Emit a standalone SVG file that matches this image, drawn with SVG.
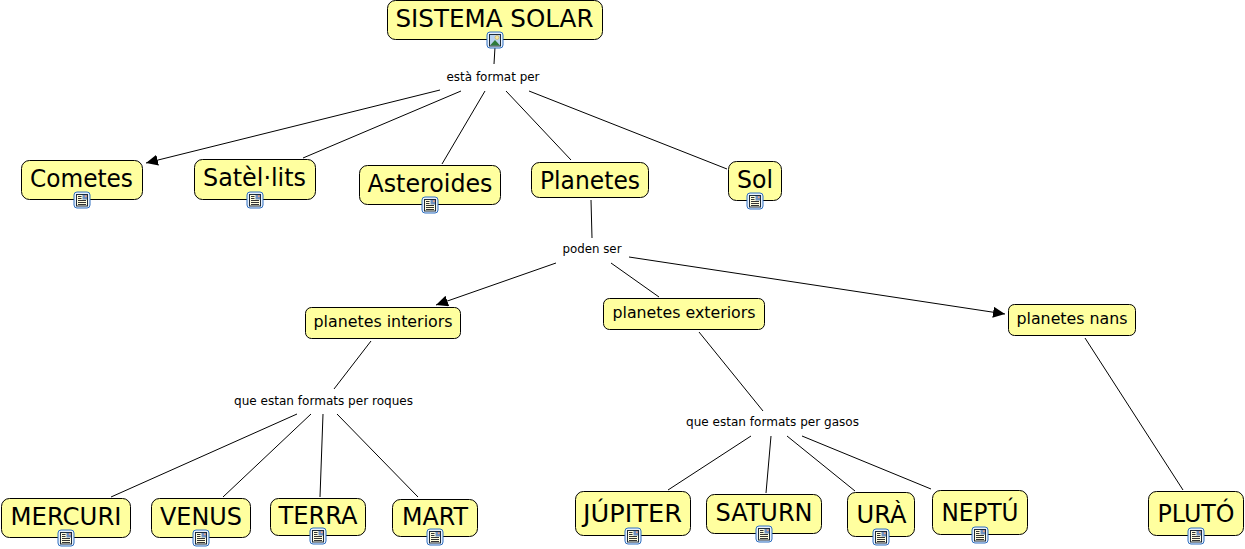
<svg xmlns="http://www.w3.org/2000/svg" width="1245" height="549" viewBox="0 0 1245 549">
<style>
text{font-family:"DejaVu Sans","Liberation Sans",sans-serif;fill:#000;text-anchor:middle}
.n rect.b{fill:#ffff9f;stroke:#000;stroke-width:1}
.t24{font-size:25px}.t15{font-size:16px}.l{font-size:11.800px}
#connectors line{stroke:#000;stroke-width:1;fill:none}
</style>
<defs>
<marker id="arrow" markerUnits="userSpaceOnUse" markerWidth="14" markerHeight="12" refX="12" refY="5.500" orient="auto"><path d="M0 0L12 5.500L0 11Z" fill="#000"/></marker>
<g id="doc"><rect x="0.500" y="0.500" width="16" height="16" rx="3" fill="#e8f1fb" stroke="#2f6fc0"/><rect x="3" y="3" width="11" height="11.500" fill="#fffde0" stroke="#1c2a3a"/><rect x="9" y="3.500" width="4.500" height="4.500" fill="#6d8fc0"/><circle cx="12.300" cy="4.800" r="1" fill="#f0a080"/><path d="M4.500 5h3.500M4.500 7h3.500M4.500 9h8M4.500 11h8M4.500 13h8" stroke="#333" stroke-width="1"/></g>
<g id="pic"><rect x="0.500" y="0.500" width="16" height="16" rx="3" fill="#e8f1fb" stroke="#2f6fc0"/><rect x="3" y="3" width="11" height="11.500" fill="#b9d3ef" stroke="#1c2a3a"/><circle cx="10.500" cy="6" r="2" fill="#f5e9a0" stroke="#c8a040" stroke-width="0.500"/><path d="M3.500 14L8.500 8.500L13.500 14Z" fill="#2f7a3a"/></g>
</defs>
<g id="connectors">
<line x1="495" y1="47" x2="494" y2="64"/>
<line x1="440" y1="90" x2="146" y2="163" marker-end="url(#arrow)"/>
<line x1="461" y1="91" x2="303" y2="158"/>
<line x1="485" y1="91" x2="442" y2="164"/>
<line x1="506" y1="91" x2="571" y2="160"/>
<line x1="529" y1="91" x2="727" y2="169"/>
<line x1="591" y1="200" x2="592" y2="238"/>
<line x1="556" y1="263" x2="436" y2="305" marker-end="url(#arrow)"/>
<line x1="611" y1="263" x2="659" y2="297"/>
<line x1="629" y1="257" x2="1005" y2="314" marker-end="url(#arrow)"/>
<line x1="371" y1="341" x2="334" y2="389"/>
<line x1="699" y1="332" x2="763" y2="411"/>
<line x1="1085" y1="338" x2="1183" y2="490"/>
<line x1="297" y1="414" x2="111" y2="497"/>
<line x1="311" y1="414" x2="223" y2="497"/>
<line x1="323" y1="414" x2="320" y2="497"/>
<line x1="337" y1="414" x2="418" y2="497"/>
<line x1="751" y1="436" x2="668" y2="490"/>
<line x1="771" y1="436" x2="766" y2="493"/>
<line x1="787" y1="436" x2="855" y2="491"/>
<line x1="802" y1="436" x2="931" y2="489"/>
</g>
<g id="sistema-solar" class="n"><rect class="b" x="387.500" y="0.500" width="215" height="39" rx="8"/><text class="t24" x="494.500" y="27" textLength="198" lengthAdjust="spacingAndGlyphs">SISTEMA SOLAR</text><use href="#pic" x="486.500" y="31.500"/></g>
<g id="esta-format-per"><text class="l" x="493" y="81" textLength="93" lengthAdjust="spacingAndGlyphs">està format per</text></g>
<g id="cometes" class="n"><rect class="b" x="21.500" y="160.500" width="121" height="39" rx="8"/><text class="t24" x="81.500" y="187" textLength="103" lengthAdjust="spacingAndGlyphs">Cometes</text><use href="#doc" x="73.500" y="191.500"/></g>
<g id="satellits" class="n"><rect class="b" x="194.500" y="159.500" width="121" height="40" rx="8"/><text class="t24" x="254.500" y="186" textLength="103" lengthAdjust="spacingAndGlyphs">Satèl·lits</text><use href="#doc" x="246.500" y="191.500"/></g>
<g id="asteroides" class="n"><rect class="b" x="359.500" y="165.500" width="141" height="39" rx="8"/><text class="t24" x="430" y="192" textLength="125" lengthAdjust="spacingAndGlyphs">Asteroides</text><use href="#doc" x="421.500" y="196.500"/></g>
<g id="planetes" class="n"><rect class="b" x="531.500" y="162.500" width="117" height="35" rx="8"/><text class="t24" x="590" y="189" textLength="100" lengthAdjust="spacingAndGlyphs">Planetes</text></g>
<g id="sol" class="n"><rect class="b" x="728.500" y="161.500" width="53" height="39" rx="8"/><text class="t24" x="755" y="188" textLength="36" lengthAdjust="spacingAndGlyphs">Sol</text><use href="#doc" x="746.500" y="192.500"/></g>
<g id="poden-ser"><text class="l" x="592" y="253" textLength="59" lengthAdjust="spacingAndGlyphs">poden ser</text></g>
<g id="planetes-interiors" class="n"><rect class="b" x="305.500" y="307.500" width="155" height="31" rx="6"/><text class="t15" x="383" y="327" textLength="139" lengthAdjust="spacingAndGlyphs">planetes interiors</text></g>
<g id="planetes-exteriors" class="n"><rect class="b" x="603.500" y="298.500" width="161" height="31" rx="6"/><text class="t15" x="684" y="318" textLength="143" lengthAdjust="spacingAndGlyphs">planetes exteriors</text></g>
<g id="planetes-nans" class="n"><rect class="b" x="1008.500" y="304.500" width="127" height="31" rx="6"/><text class="t15" x="1072" y="324" textLength="111" lengthAdjust="spacingAndGlyphs">planetes nans</text></g>
<g id="que-roques"><text class="l" x="323.500" y="405" textLength="179" lengthAdjust="spacingAndGlyphs">que estan formats per roques</text></g>
<g id="que-gasos"><text class="l" x="772.500" y="426" textLength="173" lengthAdjust="spacingAndGlyphs">que estan formats per gasos</text></g>
<g id="mercuri" class="n"><rect class="b" x="1.500" y="498.500" width="129" height="39" rx="8"/><text class="t24" x="66" y="525" textLength="111" lengthAdjust="spacingAndGlyphs">MERCURI</text><use href="#doc" x="57.500" y="529.500"/></g>
<g id="venus" class="n"><rect class="b" x="151.500" y="498.500" width="99" height="39" rx="8"/><text class="t24" x="201" y="525" textLength="82" lengthAdjust="spacingAndGlyphs">VENUS</text><use href="#doc" x="192.500" y="529.500"/></g>
<g id="terra" class="n"><rect class="b" x="270.500" y="498.500" width="95" height="37" rx="8"/><text class="t24" x="318" y="524" textLength="79" lengthAdjust="spacingAndGlyphs">TERRA</text><use href="#doc" x="309.500" y="527.500"/></g>
<g id="mart" class="n"><rect class="b" x="392.500" y="499.500" width="85" height="37" rx="8"/><text class="t24" x="435" y="525" textLength="66" lengthAdjust="spacingAndGlyphs">MART</text><use href="#doc" x="426.500" y="528.500"/></g>
<g id="jupiter" class="n"><rect class="b" x="575.500" y="491.500" width="115" height="44" rx="8"/><text class="t24" x="632.500" y="522" textLength="99" lengthAdjust="spacingAndGlyphs">JÚPITER</text><use href="#doc" x="624.500" y="527.500"/></g>
<g id="saturn" class="n"><rect class="b" x="706.500" y="494.500" width="115" height="39" rx="8"/><text class="t24" x="764" y="521" textLength="97" lengthAdjust="spacingAndGlyphs">SATURN</text><use href="#doc" x="755.500" y="525.500"/></g>
<g id="ura" class="n"><rect class="b" x="847.500" y="492.500" width="67" height="44" rx="8"/><text class="t24" x="881.500" y="523" textLength="50" lengthAdjust="spacingAndGlyphs">URÀ</text><use href="#doc" x="872.500" y="528.500"/></g>
<g id="neptu" class="n"><rect class="b" x="932.500" y="490.500" width="95" height="44" rx="8"/><text class="t24" x="980" y="521" textLength="77" lengthAdjust="spacingAndGlyphs">NEPTÚ</text><use href="#doc" x="971.500" y="526.500"/></g>
<g id="pluto" class="n"><rect class="b" x="1148.500" y="491.500" width="95" height="44" rx="8"/><text class="t24" x="1196" y="522" textLength="77" lengthAdjust="spacingAndGlyphs">PLUTÓ</text><use href="#doc" x="1187.500" y="527.500"/></g>
</svg>
